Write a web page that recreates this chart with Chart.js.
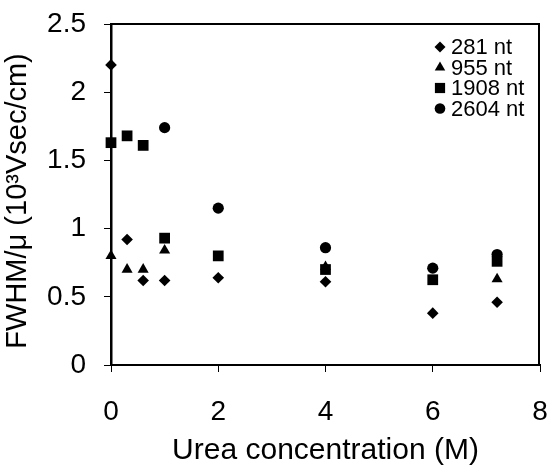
<!DOCTYPE html>
<html lang="en">
<head>
<meta charset="UTF-8">
<title>FWHM vs urea concentration</title>
<script src="https://cdn.jsdelivr.net/npm/chart.js"></script>
<style>
  html, body { margin: 0; padding: 0; background: #fff; }
  #wrap { width: 552px; height: 468px; }
</style>
</head>
<body>
<div id="wrap"><canvas id="fwhmChart" width="552" height="468"></canvas></div>
<script>
// values
const seriesLabels = ['281 nt', '955 nt', '1908 nt', '2604 nt'];

const urea281 = [0, 0.3, 0.6, 1, 2, 4, 6, 7.2];
const fwhm281 = [2.2, 0.92, 0.62, 0.62, 0.64, 0.61, 0.38, 0.46];

const urea955 = [0, 0.3, 0.6, 1, 4, 7.2];
const fwhm955 = [0.80, 0.70, 0.70, 0.84, 0.72, 0.63];

const urea1908 = [0, 0.3, 0.6, 1, 2, 4, 6, 7.2];
const fwhm1908 = [1.63, 1.68, 1.61, 0.93, 0.80, 0.70, 0.625, 0.76];

const urea2604 = [1, 2, 4, 6, 7.2];
const fwhm2604 = [1.74, 1.15, 0.86, 0.71, 0.81];

const xTicks = [0, 2, 4, 6, 8];
const yTicks = [0, 0.5, 1, 1.5, 2, 2.5];

const FONT = "'Liberation Sans', Arial, Helvetica, sans-serif";

function pts(xs, ys) {
    return xs.map((x, i) => ({ x: x, y: ys[i] }));
}

function series(label, xs, ys, style, radius) {
    return {
        label: label,
        data: pts(xs, ys),
        pointStyle: style,
        pointRadius: radius,
        pointHoverRadius: radius,
        backgroundColor: '#000',
        borderColor: '#000',
        borderWidth: 0,
        showLine: false,
        clip: false
    };
}

// top + right edge of the plot box
const framePlugin = {
    id: 'frame',
    beforeDatasetsDraw(chart) {
        const a = chart.chartArea;
        const ctx = chart.ctx;
        ctx.save();
        ctx.strokeStyle = '#000';
        ctx.lineWidth = 2;
        ctx.beginPath();
        ctx.moveTo(a.left, a.top);
        ctx.lineTo(a.right - 1, a.top);
        ctx.lineTo(a.right - 1, a.bottom);
        ctx.stroke();
        ctx.restore();
    }
};

// legend sits inside the plot, top right
const insideLegend = {
    id: 'insideLegend',
    afterDraw(chart) {
        const ctx = chart.ctx;
        const a = chart.chartArea;
        const markX = a.left + 329;
        const textX = a.left + 340;
        let y = a.top + 23;
        ctx.save();
        ctx.font = '22px ' + FONT;
        ctx.fillStyle = '#000';
        ctx.textBaseline = 'middle';
        ctx.textAlign = 'left';
        chart.data.datasets.forEach(ds => {
            ctx.fillStyle = '#000';
            ctx.strokeStyle = '#000';
            Chart.helpers.drawPoint(ctx, {
                pointStyle: ds.pointStyle,
                radius: ds.pointRadius * 0.95,
                rotation: 0,
                borderWidth: 0
            }, markX, y);
            ctx.fillText(ds.label, textX, y + 1);
            y += 20.5;
        });
        ctx.restore();
    }
};

new Chart(document.getElementById('fwhmChart'), {
    type: 'scatter',
    data: {
        datasets: [
            series(seriesLabels[0], urea281, fwhm281, 'rectRot', 5.8),
            series(seriesLabels[1], urea955, fwhm955, 'triangle', 6.4),
            series(seriesLabels[2], urea1908, fwhm1908, 'rect', 7.6),
            series(seriesLabels[3], urea2604, fwhm2604, 'circle', 5.6)
        ]
    },
    options: {
        responsive: false,
        animation: false,
        devicePixelRatio: 1,
        layout: { padding: { top: 24, right: 12, left: 0, bottom: 0 } },
        plugins: {
            legend: { display: false },
            tooltip: { enabled: false }
        },
        scales: {
            x: {
                type: 'linear',
                min: 0,
                max: 8,
                afterBuildTicks: s => { s.ticks = xTicks.map(v => ({ value: v })); },
                afterFit: s => {
                    s.height = 103;
                    s.paddingLeft = 0;
                    s.paddingRight = 0;
                },
                grid: { drawOnChartArea: false, drawTicks: true, tickLength: 7, tickColor: '#000', lineWidth: 1 },
                border: { display: true, color: '#000', width: 2 },
                ticks: { color: '#000', padding: 23, font: { family: FONT, size: 28 } },
                title: {
                    display: true,
                    text: 'Urea concentration (M)',
                    color: '#000',
                    font: { family: FONT, size: 30, lineHeight: 1 },
                    padding: { top: 0, bottom: 2 }
                }
            },
            y: {
                type: 'linear',
                min: 0,
                max: 2.5,
                afterBuildTicks: s => { s.ticks = yTicks.map(v => ({ value: v })); },
                afterFit: s => {
                    s.width = 111;
                    s.paddingTop = 0;
                    s.paddingBottom = 0;
                },
                grid: { drawOnChartArea: false, drawTicks: true, tickLength: 7, tickColor: '#000', lineWidth: 1 },
                border: { display: true, color: '#000', width: 2.5 },
                ticks: {
                    color: '#000',
                    padding: 18,
                    font: { family: FONT, size: 28 },
                    callback: v => String(v)
                },
                title: {
                    display: true,
                    text: 'FWHM/\u03bc (10\u00b3Vsec/cm) \u2006',
                    color: '#000',
                    font: { family: FONT, size: 29, lineHeight: 1 },
                    padding: { top: 3, bottom: 0 }
                }
            }
        }
    },
    plugins: [framePlugin, insideLegend]
});
</script>
</body>
</html>
